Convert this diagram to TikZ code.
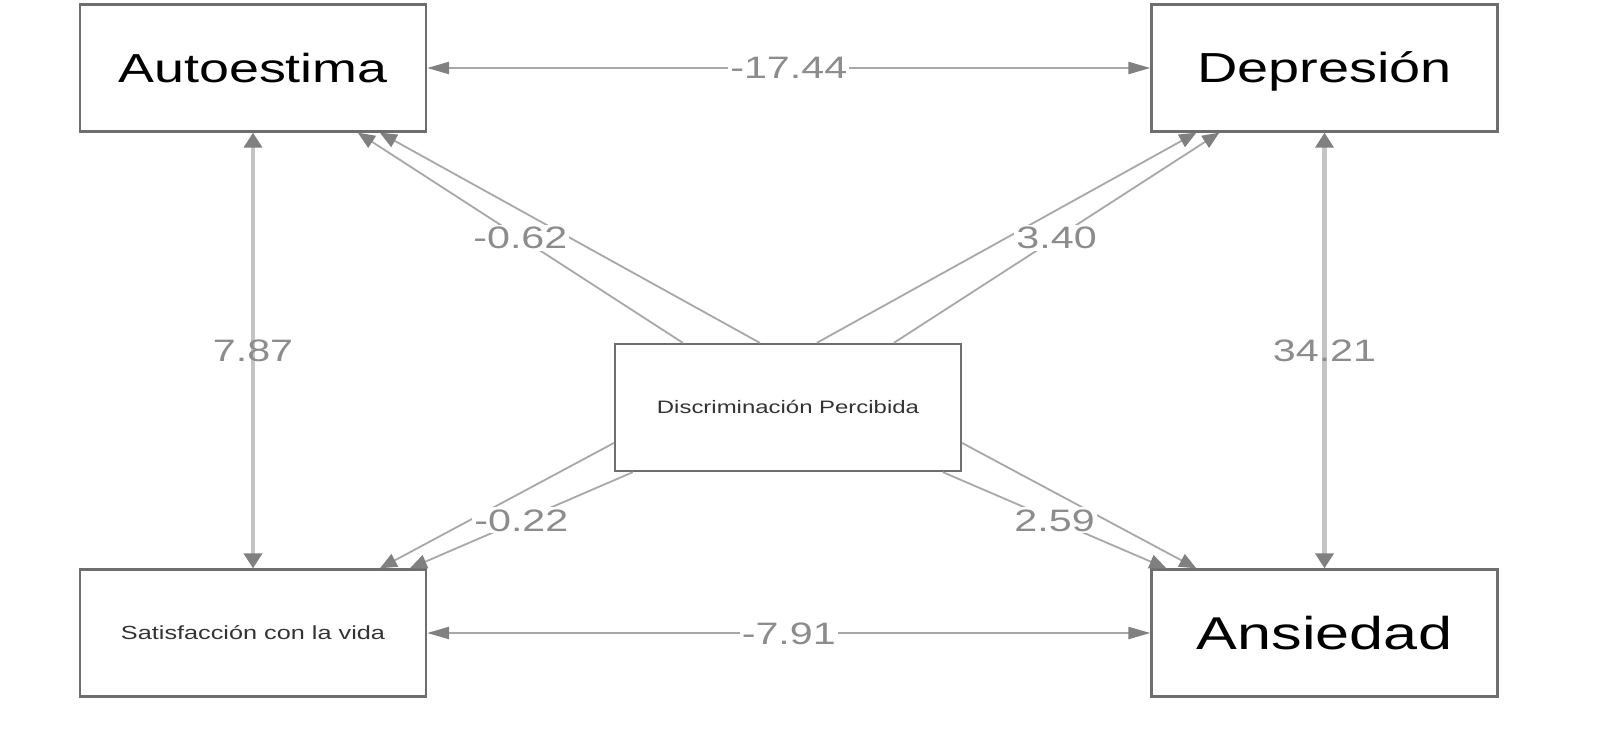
\documentclass[tikz,border=0pt]{standalone}
\usepackage{fontspec}
\setmainfont{Liberation Sans}
\newfontfamily\wide[FakeStretch=1.33]{Liberation Sans}
\usetikzlibrary{arrows.meta}
\definecolor{boxc}{HTML}{6E6E6E}
\definecolor{edgec}{HTML}{A8A8A8}
\definecolor{vedgec}{HTML}{C4C4C4}
\definecolor{tipc}{HTML}{808080}
\definecolor{labc}{HTML}{8C8C8C}
\definecolor{smallc}{HTML}{333333}
\begin{document}
\begin{tikzpicture}[x=1pt,y=-1pt,
  varbox/.style={draw=boxc,line width=2.3pt,fill=white,minimum width=346pt,minimum height=127pt,inner sep=0pt,text depth=0pt},
  bigtext/.style={font=\wide\fontsize{#1}{#1}\selectfont,text=black},
  smalltext/.style={font=\wide\fontsize{#1}{#1}\selectfont,text=smallc},
  diag/.style={draw=edgec,line width=1.8pt,-{Triangle[length=17pt,width=14pt,color=tipc]}},
  hor/.style={draw=edgec,line width=2.3pt,{Triangle[length=22pt,width=12pt,color=tipc]}-{Triangle[length=22pt,width=12pt,color=tipc]}},
  ver/.style={draw=vedgec,line width=4.5pt,{Triangle[length=15pt,width=18pt,color=tipc]}-{Triangle[length=15pt,width=18pt,color=tipc]}},
  elab/.style={font=\wide\fontsize{31}{31}\selectfont,text=labc,text height=22pt,text depth=0pt,inner sep=2pt},
  elabf/.style={elab,fill=white}
]
\fill[white] (0,0) rectangle (1600,733);
\useasboundingbox (0,0) rectangle (1600,733);

\node[varbox,bigtext=40.5,text height=29pt] (auto) at (253,68) {Autoestima};
\node[varbox,bigtext=42,text height=30pt] (dep) at (1324.5,68) {Depresión};
\node[varbox,smalltext=19,text height=13.6pt] (sat) at (253,633) {Satisfacción con la vida};
\node[varbox,bigtext=46,text height=33pt] (ans) at (1324.5,633) {Ansiedad};
\node[varbox,smalltext=18,text height=12.9pt] (disc) at (788,407.5) {Discriminación Percibida};

% covariances
\draw[hor] (auto.east) -- node[elabf] (l1744) {-17.44} (dep.west);
\draw[hor] (sat.east) -- node[elabf] (l791) {-7.91} (ans.west);
\draw[ver] (auto.south) -- node[elab] (l787) {7.87} (sat.north);
\draw[ver] (dep.south) -- node[elab] (l3421) {34.21} (ans.north);

% regressions to Autoestima
\draw[diag] ([xshift=146pt]disc.north west) -- ([xshift=301pt]auto.south west);
\draw[diag] ([xshift=69pt]disc.north west) -- node[elabf] (l062) {-0.62} ([xshift=279pt]auto.south west);
% regressions to Depresion
\draw[diag] ([xshift=203pt]disc.north west) -- ([xshift=46pt]dep.south west);
\draw[diag] ([xshift=280pt]disc.north west) -- node[elabf] (l340) {3.40} ([xshift=69pt]dep.south west);
% regressions to Satisfaccion
\draw[diag] ([yshift=-35.5pt]disc.west) -- ([xshift=301pt]sat.north west);
\draw[diag] ([xshift=19pt]disc.south west) -- node[elabf] (l022) {-0.22} ([xshift=331pt]sat.north west);
% regressions to Ansiedad
\draw[diag] ([yshift=-35.5pt]disc.east) -- ([xshift=46pt]ans.north west);
\draw[diag] ([xshift=329pt]disc.south west) -- node[elabf] (l259) {2.59} ([xshift=16pt]ans.north west);
\end{tikzpicture}
\end{document}
